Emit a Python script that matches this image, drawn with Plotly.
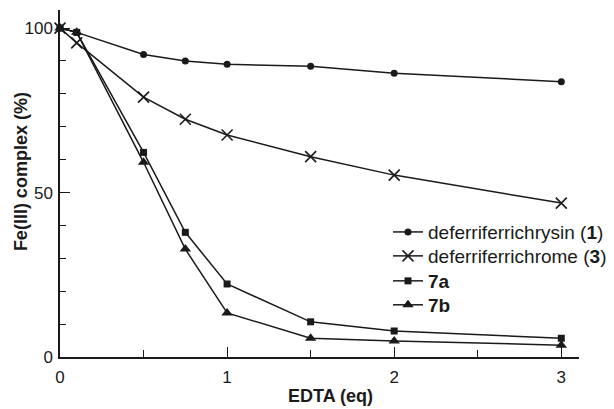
import plotly.graph_objects as go

edta = [0, 0.1, 0.5, 0.75, 1, 1.5, 2, 3]
chrysin = [100, 98.7, 92, 90, 89, 88.4, 86.3, 83.7]
chrome = [100, 95.5, 79, 72.3, 67.5, 60.9, 55.3, 46.8]
c7a = [100, 98.7, 62.2, 37.9, 22.2, 10.7, 7.9, 5.7]
c7b = [100, 98.7, 59.2, 32.8, 13.4, 5.7, 4.9, 3.6]

names = ["deferriferrichrysin (<b>1</b>)", "deferriferrichrome (<b>3</b>)", "<b>7a</b>", "<b>7b</b>"]
x_ticks = [0, 1, 2, 3]
y_ticks = [0, 50, 100]

FONT = "Liberation Sans, Arial, sans-serif"
INK = "#1a1a1a"

# the page body has an 8px margin, so the figure is drawn 8px smaller
fig = go.Figure()
series = [
    (chrysin, dict(symbol="circle", size=7, color=INK)),
    (chrome, dict(symbol="x-thin-open", size=11, color=INK, line=dict(width=1.6, color=INK))),
    (c7a, dict(symbol="square", size=7, color=INK)),
    (c7b, dict(symbol="triangle-up", size=10, color=INK)),
]
legend_ids = ["legend", "legend2", "legend3", "legend4"]
legend_y = [0.360, 0.291, 0.219, 0.150]
for (vals, mk), nm, lg in zip(series, names, legend_ids):
    fig.add_trace(go.Scatter(
        x=edta, y=vals, name=nm, mode="lines+markers",
        line=dict(color=INK, width=1.5), marker=mk, cliponaxis=False, legend=lg,
    ))

leg_common = dict(x=0.632, xanchor="left", yanchor="middle", bgcolor="rgba(0,0,0,0)",
                  font=dict(size=19, family=FONT, color=INK), itemwidth=30, borderwidth=0)
legends = {lg: dict(leg_common, y=yy) for lg, yy in zip(legend_ids, legend_y)}

fig.update_layout(
    width=606, height=401,
    margin=dict(l=52, r=29, t=2, b=52),
    paper_bgcolor="white", plot_bgcolor="white",
    font=dict(family=FONT, size=17, color=INK),
    showlegend=True,
    **legends,
    xaxis=dict(range=[0, 3.106], showline=True, linecolor=INK, linewidth=1.5,
               showgrid=False, zeroline=False, ticks="inside", ticklen=10, tickwidth=1.3,
               tickcolor=INK, tickvals=x_ticks, ticktext=[str(v) for v in x_ticks],
               tickfont=dict(size=17), ticklabelstandoff=4,
               minor=dict(dtick=0.5, ticklen=7, tickwidth=1.3, tickcolor=INK, ticks="inside", showgrid=False)),
    yaxis=dict(range=[0, 105.5], showline=True, linecolor=INK, linewidth=1.5,
               showgrid=False, zeroline=False, ticks="inside", ticklen=10, tickwidth=1.3,
               tickcolor=INK, tickvals=y_ticks, ticktext=[str(v) for v in y_ticks],
               tickfont=dict(size=17), ticklabelstandoff=2,
               minor=dict(dtick=10, ticklen=6, tickwidth=1.3, tickcolor=INK, ticks="inside", showgrid=False)),
    annotations=[
        dict(text="<b>EDTA (eq)</b>", xref="paper", yref="paper", x=0.521, y=-0.112,
             xanchor="center", yanchor="middle", showarrow=False, font=dict(size=18, family=FONT, color=INK)),
        dict(text="<b>Fe(III) complex (%)</b>", xref="paper", yref="paper", x=-0.075, y=0.533,
             xanchor="center", yanchor="middle", textangle=-90, showarrow=False,
             font=dict(size=18, family=FONT, color=INK)),
    ],
)

fig.write_html("out.html")
